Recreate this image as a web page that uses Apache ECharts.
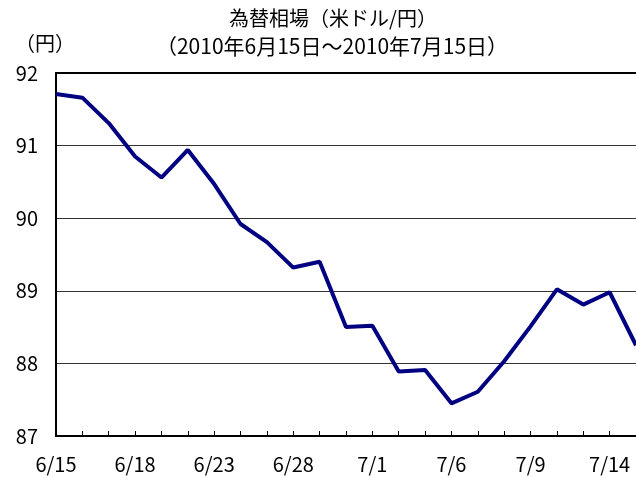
<!DOCTYPE html>
<html lang="ja">
<head>
    <meta charset="UTF-8">
    <title>為替相場</title>
    <style>
        * { margin: 0; padding: 0; }
        #chart { width: 636px; height: 478px; background: #fff; }
    </style>
</head>
<body>
    <div id="chart"></div>
    <script src="https://cdn.jsdelivr.net/npm/echarts@6/dist/echarts.min.js"></script>
    <script>
        // 営業日ベース
        var dates = ['6/15', '6/16', '6/17', '6/18', '6/21', '6/22', '6/23', '6/24', '6/25',
            '6/28', '6/29', '6/30', '7/1', '7/2', '7/5', '7/6', '7/7', '7/8', '7/9',
            '7/12', '7/13', '7/14', '7/15'];
        var rates = [91.71, 91.66, 91.31, 90.85, 90.56, 90.94, 90.47, 89.92, 89.67,
            89.32, 89.40, 88.50, 88.52, 87.89, 87.91, 87.45, 87.61, 88.03, 88.51,
            89.02, 88.81, 88.98, 88.25];
        var titleText = '為替相場（米ドル/円）';
        var subText = '（2010年6月15日～2010年7月15日）';
        var unitText = '（円）';

        var font = '"Noto Sans CJK JP", sans-serif';
        var myChart = echarts.init(document.getElementById('chart'));

        var option = {
            animation: false,
            backgroundColor: '#fff',
            graphic: [
                { type: 'text', x: 333, y: 18, style: { text: titleText, font: '20px ' + font, fill: '#000', textAlign: 'center', textVerticalAlign: 'middle' } },
                { type: 'text', x: 332, y: 46, style: { text: subText, font: '21px ' + font, fill: '#000', textAlign: 'center', textVerticalAlign: 'middle' } },
                { type: 'text', x: 45, y: 43, style: { text: unitText, font: '20px ' + font, fill: '#000', textAlign: 'center', textVerticalAlign: 'middle' } }
            ],
            grid: {
                left: 56,
                right: -1,
                top: 73,
                bottom: 42
            },
            xAxis: [{
                type: 'category',
                data: dates,
                boundaryGap: false,
                axisLine: { lineStyle: { color: '#000', width: 2 } },
                axisTick: { inside: true, length: 5, interval: 0, lineStyle: { color: '#000' } },
                axisLabel: { interval: 2, margin: 18, fontSize: 20, color: '#000', fontFamily: font },
                splitLine: { show: false }
            }, {
                // 上枠
                type: 'category',
                data: dates,
                position: 'top',
                boundaryGap: false,
                axisLine: { lineStyle: { color: '#000', width: 2 } },
                axisTick: { show: false },
                axisLabel: { show: false }
            }],
            yAxis: {
                type: 'value',
                min: 87,
                max: 92,
                interval: 1,
                axisLine: { show: true, lineStyle: { color: '#000', width: 2 } },
                axisTick: { show: false },
                axisLabel: { margin: 18, fontSize: 20, color: '#000', fontFamily: font },
                splitLine: { lineStyle: { color: '#333', width: 1 } }
            },
            series: [{
                name: '米ドル/円',
                type: 'line',
                data: rates,
                symbol: 'none',
                lineStyle: { color: '#000080', width: 4 },
                clip: false
            }]
        };
        myChart.setOption(option);
    </script>
</body>
</html>
